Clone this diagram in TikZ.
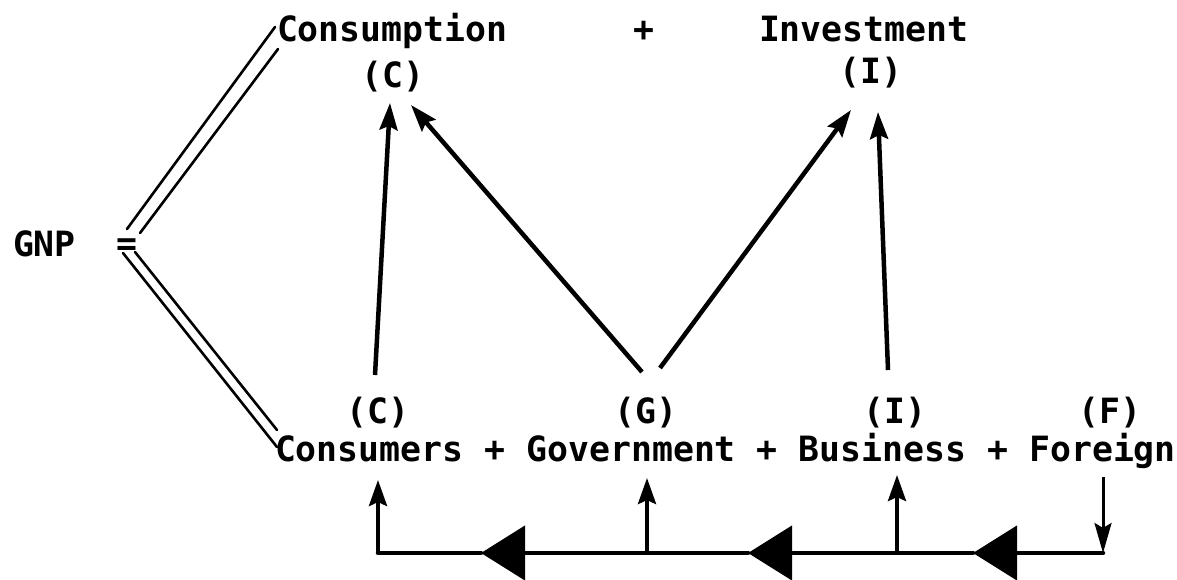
\documentclass[tikz,border=0pt]{standalone}
\usepackage{fontspec}
\newfontfamily\twfont{DejaVu Sans Mono}
\usetikzlibrary{arrows.meta}
\begin{document}
\begin{tikzpicture}[x=1pt,y=-1pt,
  word/.style={inner sep=0pt,outer sep=0pt,anchor=base west,
    font=\twfont\bfseries\fontsize{34.8}{40}\selectfont,
    text height=24pt,text depth=5pt},
  tag/.style={word,anchor=base},
  flow/.style={line width=4.5pt,-{Stealth[length=27pt,width=18pt,inset=4pt]}},
  feed/.style={line width=4pt,-{Stealth[length=26pt,width=18pt,inset=4pt]}},
  outflow/.style={line width=3pt,-{Stealth[length=30pt,width=17pt,inset=5pt]}},
  bar/.style={line width=2.6pt,line cap=round},
  ringline/.style={line width=4.5pt,line cap=round},
  bigtip/.style={ringline,-{Triangle[length=44pt,width=54pt]}}
]
\useasboundingbox (0,0) rectangle (1177,580);

% top row: the two components of GNP
\node[word] (cnsn) at (277,42) {Consumption};
\node[word] (ptop) at (633,42) {+};
\node[word] (inv)  at (759,42) {Investment};
\node[tag]  (tC)   at (393,87.5) {(C)};
\node[tag]  (tI)   at (871,84) {(I)};

% left side
\node[word] (gnp) at (13,256) {GNP};
\node[tag]  (eq)  at (127,255) {=};

% bottom row: the four spending sectors
\node[word] (cons) at (275,461)    {Consumers};
\node[word] (p1)   at (484.5,461)  {+};
\node[word] (gov)  at (526.4,461)  {Government};
\node[word] (p2)   at (756.9,461)  {+};
\node[word] (bus)  at (798.8,461)  {Business};
\node[word] (p3)   at (987.3,461)  {+};
\node[word] (fore) at (1029.2,461) {Foreign};
\node[tag]  (bC) at (378,423)  {(C)};
\node[tag]  (bG) at (646,423)  {(G)};
\node[tag]  (bI) at (895,423)  {(I)};
\node[tag]  (bF) at (1110,423) {(F)};

% double strokes joining "=" to both rows
\coordinate (e1) at (127,229);  \coordinate (s1) at (275,27);
\coordinate (e2) at (140,233);  \coordinate (s2) at (278,49);
\coordinate (e3) at (123,253);  \coordinate (s3) at (277,447);
\coordinate (e4) at (135,252);  \coordinate (s4) at (277,430);
\draw[bar] (e1) -- (s1);
\draw[bar] (e2) -- (s2);
\draw[bar] (e3) -- (s3);
\draw[bar] (e4) -- (s4);

% sectors feeding consumption and investment
\draw[flow] ([shift={(-3,-24)}]bC.north) -- ([shift={(-3,10.5)}]tC.south);
\draw[flow] ([shift={(-4,-27)}]bG.north) -- ([shift={(18,12.5)}]tC.south);
\draw[flow] ([shift={(14,-31)}]bG.north) -- ([shift={(-20,21)}]tI.south);
\draw[flow] ([shift={(-7,-29)}]bI.north) -- ([shift={(7,23)}]tI.south);

% circular flow along the bottom
\coordinate (cl) at (378,553);
\coordinate (jG) at (647,553);
\coordinate (jI) at (897,553);
\coordinate (cr) at (1103,553);
\coordinate (k3) at (973,553);
\coordinate (k2) at (748,553);
\coordinate (k1) at (481,553);
\draw[bigtip] (cr) -- (k3);
\draw[bigtip] (k3) -- (k2);
\draw[bigtip] (k2) -- (k1);
\draw[ringline] (k1) -- (cl);

\draw[feed,shorten >=14pt] (cl) -- (cl |- cons.south);
\draw[feed,shorten >=12pt] (jG) -- (jG |- gov.south);
\draw[feed,shorten >=9pt]  (jI) -- (jI |- bus.south);
\draw[outflow,shorten <=11pt] (cr |- fore.south) -- (cr);
\end{tikzpicture}
\end{document}
